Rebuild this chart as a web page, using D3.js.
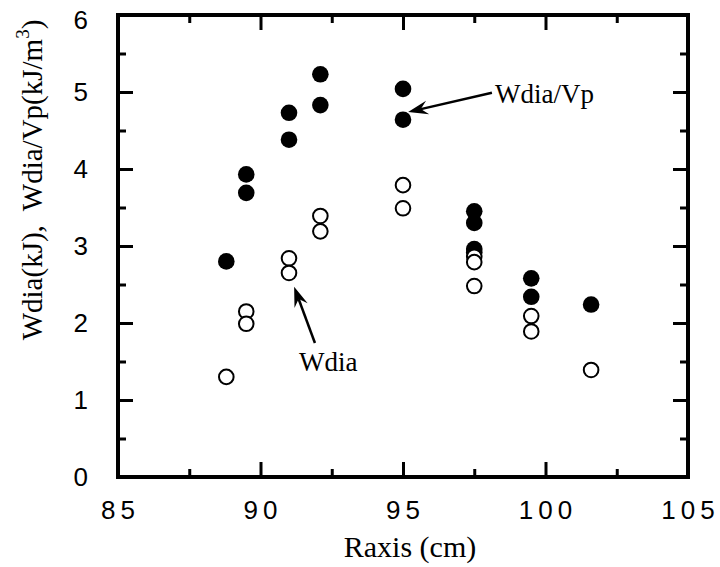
<!DOCTYPE html>
<html>
<head>
<meta charset="utf-8">
<script src="https://cdn.jsdelivr.net/npm/d3@7/dist/d3.min.js"></script>
<style>
  html, body { margin: 0; padding: 0; background: #fff; }
  svg { display: block; }
  .tick-label { font-family: "Liberation Sans", Arial, sans-serif; font-size: 26px; fill: #000; }
  .serif { font-family: "Liberation Serif", "Times New Roman", serif; fill: #000; }
</style>
</head>
<body>
<svg id="chart" width="720" height="567"></svg>
<script>
// Major radius (cm) positions of each measurement
const raxisFilled = [88.8, 89.5, 89.5, 91.0, 91.0, 92.1, 92.1, 95.0, 95.0, 97.5, 97.5, 97.5, 97.5, 99.5, 99.5, 101.6];
// Stored energy per plasma volume, Wdia/Vp (kJ/m^3)
const wdiaVp      = [2.80, 3.93, 3.69, 4.73, 4.38, 5.23, 4.83, 5.04, 4.64, 3.45, 3.30, 2.96, 2.92, 2.58, 2.34, 2.24];

const raxisOpen   = [88.8, 89.5, 89.5, 91.0, 91.0, 92.1, 92.1, 95.0, 95.0, 97.5, 97.5, 97.5, 99.5, 99.5, 101.6];
// Diamagnetic stored energy, Wdia (kJ)
const wdia        = [1.30, 2.15, 1.99, 2.84, 2.65, 3.39, 3.19, 3.79, 3.49, 2.86, 2.79, 2.48, 2.09, 1.89, 1.39];

const xMajorTicks = [85, 90, 95, 100, 105];
const xMinorTicks = [87.5, 92.5, 97.5, 102.5];
const yMajorTicks = [0, 1, 2, 3, 4, 5, 6];
const yMinorTicks = [0.5, 1.5, 2.5, 3.5, 4.5, 5.5];

const svg = d3.select("#chart");
const m = { left: 118, top: 15, right: 32, bottom: 90 };
const W = 720 - m.left - m.right;
const H = 567 - m.top - m.bottom;

const x = d3.scaleLinear().domain([85, 105]).range([m.left, m.left + W]);
const y = d3.scaleLinear().domain([0, 6]).range([m.top + H, m.top]);

const majorLen = 15, minorLen = 8;

// Inward ticks on all four sides
function ticks(axisGen, scale, vals, len, transform) {
  const g = svg.append("g").attr("transform", transform)
    .call(axisGen(scale).tickValues(vals).tickSize(len).tickFormat(""));
  g.select(".domain").remove();
  g.selectAll(".tick line").attr("stroke", "#000").attr("stroke-width", 3);
  return g;
}
ticks(d3.axisTop, x, xMajorTicks, majorLen, `translate(0,${m.top + H})`);
ticks(d3.axisTop, x, xMinorTicks, minorLen, `translate(0,${m.top + H})`);
ticks(d3.axisBottom, x, xMajorTicks, majorLen, `translate(0,${m.top})`);
ticks(d3.axisBottom, x, xMinorTicks, minorLen, `translate(0,${m.top})`);
ticks(d3.axisRight, y, yMajorTicks, majorLen, `translate(${m.left},0)`);
ticks(d3.axisRight, y, yMinorTicks, minorLen, `translate(${m.left},0)`);
ticks(d3.axisLeft, y, yMajorTicks, majorLen, `translate(${m.left + W},0)`);
ticks(d3.axisLeft, y, yMinorTicks, minorLen, `translate(${m.left + W},0)`);

// Frame
svg.append("rect")
  .attr("x", m.left).attr("y", m.top).attr("width", W).attr("height", H)
  .attr("fill", "none").attr("stroke", "#000").attr("stroke-width", 4);

// Tick labels
svg.append("g").selectAll("text").data(xMajorTicks).join("text")
  .attr("class", "tick-label")
  .attr("x", d => x(d) + 2.5).attr("y", m.top + H + 42)
  .attr("text-anchor", "middle")
  .attr("letter-spacing", 5)
  .text(d => d);

svg.append("g").selectAll("text").data(yMajorTicks).join("text")
  .attr("class", "tick-label")
  .attr("x", m.left - 30).attr("y", d => y(d) + (d === 6 ? 14 : 9))
  .attr("text-anchor", "end")
  .text(d => d);

// Axis titles
svg.append("text").attr("class", "serif")
  .attr("x", 410).attr("y", 557)
  .attr("text-anchor", "middle").attr("font-size", 30)
  .text("Raxis (cm)");

const yTitle = svg.append("text").attr("class", "serif")
  .attr("transform", "translate(42,180) rotate(-90)")
  .attr("text-anchor", "middle").attr("font-size", 29)
  .style("white-space", "pre");
yTitle.append("tspan").text("Wdia(kJ),  Wdia/Vp(kJ/m");
yTitle.append("tspan").attr("font-size", 19).attr("dy", -13).text("3");
yTitle.append("tspan").attr("dy", 13).text(")");

// Data points: filled Wdia/Vp, then open Wdia on top
svg.append("g").selectAll("circle").data(raxisFilled.map((r, i) => [r, wdiaVp[i]])).join("circle")
  .attr("cx", d => x(d[0])).attr("cy", d => y(d[1])).attr("r", 8.3)
  .attr("fill", "#000");

svg.append("g").selectAll("circle").data(raxisOpen.map((r, i) => [r, wdia[i]])).join("circle")
  .attr("cx", d => x(d[0])).attr("cy", d => y(d[1])).attr("r", 7.3)
  .attr("fill", "#fff").attr("stroke", "#000").attr("stroke-width", 2);

// Labelled arrows
function arrow(x0, y0, x1, y1) {
  const px0 = x(x0), py0 = y(y0), px1 = x(x1), py1 = y(y1);
  const a = Math.atan2(py1 - py0, px1 - px0);
  const len = 20, half = 7, notch = 13;
  const ux = Math.cos(a), uy = Math.sin(a);
  svg.append("line")
    .attr("x1", px0).attr("y1", py0)
    .attr("x2", px1 - ux * notch).attr("y2", py1 - uy * notch)
    .attr("stroke", "#000").attr("stroke-width", 2.5);
  const bx = px1 - ux * len, by = py1 - uy * len;
  const pts = [
    [px1, py1],
    [bx - uy * half, by + ux * half],
    [px1 - ux * notch, py1 - uy * notch],
    [bx + uy * half, by - ux * half]
  ];
  svg.append("path").attr("d", "M" + pts.map(p => p.join(",")).join("L") + "Z").attr("fill", "#000");
}

arrow(98.12, 4.99, 95.18, 4.74);
svg.append("text").attr("class", "serif")
  .attr("x", x(98.23)).attr("y", y(4.86)).attr("font-size", 27)
  .text("Wdia/Vp");

arrow(91.91, 1.74, 91.18, 2.47);
svg.append("text").attr("class", "serif")
  .attr("x", x(91.35)).attr("y", y(1.38)).attr("font-size", 27)
  .text("Wdia");
</script>
</body>
</html>
